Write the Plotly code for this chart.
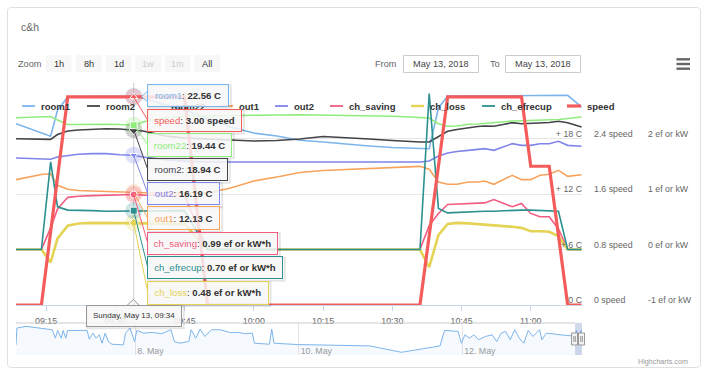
import plotly.graph_objects as go

W, H = 708, 383
FONT = "Liberation Sans, Arial, sans-serif"

# ---------------- data ----------------
DAY = "2018-05-13 "
TIMES = ["09:08:30", "09:14", "09:16", "09:17:30", "09:19:42", "09:22", "09:25", "09:28", "09:31", "09:34",
         "09:36", "09:38", "09:41", "09:45", "09:50", "09:55", "10:00", "10:05", "10:10", "10:15",
         "10:20", "10:25", "10:30", "10:34", "10:36", "10:38", "10:40", "10:42", "10:44", "10:46:30",
         "10:48:30", "10:50", "10:52", "10:54", "10:56", "10:58", "11:00", "11:02", "11:04", "11:06",
         "11:08", "11:11"]

room1 = [19.60, 18.59, 18.24, 21.08, 22.49, 22.54, 22.54, 22.59, 22.59, 22.56,
         22.38, 22.05, 21.62, 21.08, 20.22, 19.24, 18.59, 18.27, 17.81, 17.62,
         17.37, 17.19, 17.03, 16.94, 16.90, 16.90, 21.30, 22.59, 22.59, 22.59,
         22.62, 22.62, 22.62, 22.65, 22.65, 22.65, 22.65, 22.65, 22.65, 22.65,
         22.67, 21.41]
room2 = [17.98, 17.91, 17.91, 18.43, 18.81, 18.92, 19.03, 19.06, 19.03, 18.94,
         18.81, 18.59, 18.27, 18.05, 17.95, 17.84, 17.73, 17.78, 17.95, 18.22,
         18.11, 17.95, 17.78, 17.65, 17.62, 17.62, 18.16, 18.78, 18.97, 19.19,
         19.30, 19.35, 19.32, 19.51, 19.71, 19.60, 19.62, 19.71, 19.73, 19.86,
         19.71, 19.24]
room22 = [20.25, 20.38, 20.38, 20.00, 19.51, 19.51, 19.54, 19.54, 19.51, 19.44,
          19.78, 20.00, 20.22, 20.38, 20.43, 20.49, 20.49, 20.54, 20.57, 20.54,
          20.49, 20.43, 20.40, 20.32, 20.29, 20.22, 19.60, 19.32, 19.35, 19.54,
          19.57, 19.64, 19.73, 19.86, 19.89, 19.92, 19.95, 19.97, 20.00, 20.05,
          20.16, 20.32]
out1 = [13.55, 14.11, 14.19, 12.94, 12.51, 12.38, 12.32, 12.27, 12.22, 12.13,
        12.11, 12.11, 12.11, 12.11, 12.11, 12.65, 13.41, 13.84, 14.32, 14.54,
        14.65, 14.81, 14.86, 14.94, 14.99, 14.67, 13.30, 13.05, 13.05, 13.30,
        13.30, 13.41, 13.05, 13.55, 14.02, 13.55, 13.55, 14.02, 14.13, 14.56,
        13.91, 14.09]
out2 = [15.89, 15.78, 15.75, 16.00, 16.18, 16.30, 16.36, 16.36, 16.25, 16.19,
        16.00, 15.85, 15.70, 15.55, 15.46, 15.46, 15.46, 15.46, 15.46, 15.46,
        15.46, 15.46, 15.46, 15.46, 15.46, 15.57, 16.11, 16.43, 16.60, 16.72,
        16.80, 16.90, 16.72, 17.08, 17.44, 17.26, 17.26, 17.44, 17.44, 17.70,
        17.26, 17.16]
ch_saving = [0, 0, 0.39, 0.73, 0.94, 0.96, 0.97, 0.98, 0.98, 0.99,
             0.98, 0.98, 0.97, 0.97, 0, 0, 0, 0, 0, 0,
             0, 0, 0, 0, 0, 0.43, 0.65, 0.81, 0.82, 0.83,
             0.84, 0.84, 0.90, 0.84, 0.77, 0.83, 0.65, 0.59, 0.59, 0.37,
             0, 0]
ch_loss = [0, 0, -0.23, 0.20, 0.43, 0.47, 0.48, 0.48, 0.47, 0.48,
           0.47, 0.47, 0.46, 0.46, 0, 0, 0, 0, 0, 0,
           0, 0, 0, 0, 0, -0.32, 0.26, 0.46, 0.48, 0.47,
           0.46, 0.44, 0.43, 0.42, 0.41, 0.39, 0.33, 0.33, 0.32, 0.24,
           0, 0]
ch_efrecup = [0, 0, 1.58, 0.77, 0.71, 0.70, 0.70, 0.69, 0.69, 0.70,
              0.70, 0.70, 0.70, 0.70, 0, 0, 0, 0, 0, 0,
              0, 0, 0, 0, 0, 2.81, 0.74, 0.66, 0.67, 0.68,
              0.68, 0.69, 0.69, 0.70, 0.70, 0.71, 0.71, 0.70, 0.70, 0.69,
              0, 0]
speed = [0, 0, 1.05, 1.85, 3, 3, 3, 3, 3, 3,
         3, 3, 3, 3, 0, 0, 0, 0, 0, 0,
         0, 0, 0, 0, 0, 1.0, 2.03, 3, 3, 3,
         3, 3, 3, 3, 3, 3, 2, 2, 2, 1.0,
         0, 0]

HOVER_INDEX = 9   # 09:34

# navigator (room1 over the week)
NAV_TIMES = ["2018-05-06 13:00", "2018-05-06 13:16", "2018-05-06 15:56", "2018-05-06 21:14", "2018-05-06 23:38",
             "2018-05-07 00:34", "2018-05-07 01:14", "2018-05-07 02:18", "2018-05-07 02:50", "2018-05-07 03:38",
             "2018-05-07 04:09", "2018-05-07 09:53", "2018-05-07 10:31", "2018-05-07 11:35", "2018-05-07 12:31",
             "2018-05-07 13:28", "2018-05-07 14:15", "2018-05-07 15:11", "2018-05-07 16:06", "2018-05-07 17:10",
             "2018-05-07 20:31", "2018-05-07 21:10", "2018-05-07 22:29", "2018-05-07 23:50", "2018-05-08 00:28",
             "2018-05-08 02:28", "2018-05-08 05:08", "2018-05-08 07:47", "2018-05-08 10:28", "2018-05-08 11:31",
             "2018-05-08 13:06", "2018-05-08 15:46", "2018-05-08 16:25", "2018-05-08 17:46", "2018-05-08 19:05",
             "2018-05-08 20:25", "2018-05-08 22:25", "2018-05-09 01:04", "2018-05-09 03:43", "2018-05-09 06:22",
             "2018-05-09 08:22", "2018-05-09 10:22", "2018-05-09 11:02", "2018-05-09 15:25", "2018-05-09 16:05",
             "2018-05-09 16:46", "2018-05-09 23:40", "2018-05-10 20:55", "2018-05-11 06:12", "2018-05-11 17:30",
             "2018-05-11 18:50", "2018-05-11 22:49", "2018-05-11 23:46", "2018-05-12 00:49", "2018-05-12 02:08",
             "2018-05-12 03:28", "2018-05-12 04:49", "2018-05-12 06:49", "2018-05-12 08:48", "2018-05-12 10:08",
             "2018-05-12 11:27", "2018-05-12 12:47", "2018-05-12 14:06", "2018-05-12 15:26", "2018-05-12 16:46",
             "2018-05-12 18:05", "2018-05-12 19:25", "2018-05-12 20:46", "2018-05-12 22:44", "2018-05-12 23:24",
             "2018-05-13 00:43", "2018-05-13 04:43", "2018-05-13 08:02"]
NAV_ROOM1 = [16.15, 23.65, 24.40, 23.20, 22.90,
             19.15, 22.60, 19.15, 22.60, 19.15,
             22.60, 22.60, 18.70, 21.40, 19.15,
             20.65, 16.90, 21.40, 17.65, 16.45,
             16.15, 21.40, 23.65, 17.65, 22.60,
             21.40, 21.70, 21.10, 22.90, 17.65,
             16.90, 17.65, 22.90, 19.15, 23.20,
             19.90, 22.90, 22.90, 21.70, 21.70,
             21.10, 21.40, 16.90, 16.45, 23.20,
             16.90, 16.30, 15.70, 12.85, 15.70,
             22.60, 22.15, 16.90, 20.65, 19.15,
             20.65, 18.40, 19.90, 20.65, 17.65,
             21.40, 22.15, 18.40, 22.90, 19.15,
             16.90, 22.60, 19.90, 22.90, 18.40,
             21.40, 20.65, 20.20]

XTICKS = ["09:15", "09:30", "09:45", "10:00", "10:15", "10:30", "10:45", "11:00"]
C_TICKS = [0, 6, 12, 18, 24]
C_LABELS = ["0 C", "+ 6 C", "+ 12 C", "+ 18 C", ""]
SPEED_TICKS = [0, 0.8, 1.6, 2.4]
SPEED_LABELS = ["0 speed", "0.8 speed", "1.6 speed", "2.4 speed"]
EF_TICKS = [-1, 0, 1, 2]
EF_LABELS = ["-1 ef or kW", "0 ef or kW", "1 ef or kW", "2 ef or kW"]
NAV_TICKS = ["2018-05-08", "2018-05-10", "2018-05-12"]
NAV_LABELS = ["8. May", "10. May", "12. May"]

# ---------------- helpers ----------------
def PX(x):
    return x / W

def PY(y):
    return 1 - y / H

PLOT_TOP, PLOT_BOT = 83, 305
C_RANGE, EF_RANGE, SPEED_RANGE = [0, 24], [-1, 3], [0, 3.2]

def ypix(v, rng):
    return PLOT_BOT - (v - rng[0]) / (rng[1] - rng[0]) * (PLOT_BOT - PLOT_TOP)

t = [DAY + s for s in TIMES]
X_RANGE = [DAY + "09:08:30", DAY + "11:11:06"]
NAV_RANGE = ["2018-05-06 13:00", DAY + "11:11:06"]
HOVER_XPX = 133.7

COL = {"room1": "#7cb5ec", "room2": "#434348", "room22": "#90ed7d", "out1": "#f7a35c",
       "out2": "#8085e9", "ch_saving": "#f15c80", "ch_loss": "#e4d354", "ch_efrecup": "#2b908f",
       "speed": "#f45b5b"}

fig = go.Figure()

series = [
    ("room1", room1, "y", 1.6), ("room2", room2, "y", 1.6), ("room22", room22, "y", 1.6),
    ("out1", out1, "y", 1.6), ("out2", out2, "y", 1.6),
    ("ch_saving", ch_saving, "y2", 1.6), ("ch_loss", ch_loss, "y2", 2.6),
    ("ch_efrecup", ch_efrecup, "y2", 1.6), ("speed", speed, "y3", 3.2),
]
AXRANGE = {"y": C_RANGE, "y2": EF_RANGE, "y3": SPEED_RANGE}
SER = {n: (v, a) for n, v, a, _ in series}
for name, vals, ax, lw in series:
    fig.add_trace(go.Scatter(x=t, y=vals, mode="lines", name=name, yaxis=ax, xaxis="x",
                             line=dict(color=COL[name], width=lw), hoverinfo="skip"))

# hover halos + markers
SYMB = {"room1": "circle", "room2": "diamond", "room22": "square", "out1": "triangle-up",
        "out2": "triangle-down", "ch_saving": "circle", "ch_loss": "diamond", "ch_efrecup": "square",
        "speed": "triangle-up"}
for ax in ["y", "y2", "y3"]:
    grp = [(n, v) for n, v, a, _ in series if a == ax]
    xs = [t[HOVER_INDEX]] * len(grp)
    ys = [v[HOVER_INDEX] for _, v in grp]
    fig.add_trace(go.Scatter(x=xs, y=ys, mode="markers", yaxis=ax, hoverinfo="skip",
                             marker=dict(size=17, color=[COL[n] for n, _ in grp], opacity=0.25,
                                         line=dict(width=0))))
    fig.add_trace(go.Scatter(x=xs, y=ys, mode="markers", yaxis=ax, hoverinfo="skip",
                             marker=dict(size=7, color=[COL[n] for n, _ in grp],
                                         symbol=[SYMB[n] for n, _ in grp],
                                         line=dict(width=1, color="#ffffff"))))

# navigator
fig.add_trace(go.Scatter(x=NAV_TIMES + t, y=NAV_ROOM1 + room1, mode="lines", xaxis="x2", yaxis="y4",
                         line=dict(color="#7cb5ec", width=1), fill="tozeroy",
                         fillcolor="rgba(124,181,236,0.07)", hoverinfo="skip"))

AXF = dict(family=FONT, size=8.8, color="#666666")
fig.update_layout(
    width=W, height=H, margin=dict(l=0, r=0, t=0, b=0),
    paper_bgcolor="white", plot_bgcolor="white", showlegend=False,
    hovermode=False, dragmode=False, font=dict(family=FONT, color="#333333"),
    xaxis=dict(domain=[PX(16), PX(582)], range=X_RANGE, anchor="y", showgrid=False, zeroline=False,
               showline=True, linecolor="#ccd6eb", linewidth=1, ticks="outside", ticklen=5,
               tickcolor="#ccd6eb", tickvals=[DAY + s for s in XTICKS], ticktext=XTICKS,
               tickfont=AXF, ticklabelstandoff=2, fixedrange=True),
    yaxis=dict(domain=[PY(PLOT_BOT), PY(PLOT_TOP)], range=C_RANGE, side="right", anchor="x",
               ticklabelposition="inside", ticklabeloverflow="allow", tickvals=C_TICKS, ticktext=C_LABELS,
               showgrid=True, gridcolor="#e6e6e6", gridwidth=1, zeroline=False, showline=False,
               ticks="", tickfont=AXF, ticklabelshift=-5, ticklabelstandoff=-3, fixedrange=True),
    yaxis2=dict(range=EF_RANGE, overlaying="y", side="right", anchor="free", position=PX(647),
                tickvals=EF_TICKS, ticktext=EF_LABELS, showgrid=False, zeroline=False, showline=False,
                ticks="", tickfont=AXF, ticklabelshift=-5, fixedrange=True),
    yaxis3=dict(range=SPEED_RANGE, overlaying="y", side="right", anchor="free", position=PX(593),
                tickvals=SPEED_TICKS, ticktext=SPEED_LABELS, showgrid=False, zeroline=False,
                showline=False, ticks="", tickfont=AXF, ticklabelshift=-5, fixedrange=True),
    xaxis2=dict(domain=[PX(16), PX(582)], range=NAV_RANGE, anchor="y4", showgrid=True,
                gridcolor="#e6e6e6", zeroline=False, showline=False, ticks="",
                tickvals=NAV_TICKS, ticktext=NAV_LABELS, ticklabelposition="inside right",
                ticklabeloverflow="allow", ticklabelstandoff=-7, ticklabelshift=2,
                tickfont=dict(family=FONT, size=8.8, color="#999999"), fixedrange=True),
    yaxis4=dict(domain=[PY(355), PY(323)], range=[11.65, 25.9], anchor="x2", showgrid=False,
                zeroline=False, showticklabels=False, showline=False, fixedrange=True),
)

shapes = []
ann = []

def pline(x0, y0, x1, y1, color, width, layer="above"):
    shapes.append(dict(type="line", xref="paper", yref="paper", x0=PX(x0), y0=PY(y0), x1=PX(x1),
                       y1=PY(y1), line=dict(color=color, width=width), layer=layer))

def prect(x0, y0, x1, y1, fill, line_color=None, lw=0, layer="above"):
    shapes.append(dict(type="rect", xref="paper", yref="paper", x0=PX(x0), y0=PY(y0), x1=PX(x1),
                       y1=PY(y1), fillcolor=fill,
                       line=dict(color=line_color or "rgba(0,0,0,0)", width=lw), layer=layer))

def ppath(pts, fill, color, lw, close=True):
    d = "M " + " L ".join("%.5f,%.5f" % (PX(x), PY(y)) for x, y in pts) + (" Z" if close else "")
    shapes.append(dict(type="path", xref="paper", yref="paper", path=d, fillcolor=fill,
                       line=dict(color=color, width=lw), layer="above"))

def text(x, y, s, size, color="#333333", xanchor="left", bold=False):
    ann.append(dict(x=PX(x), y=PY(y), xref="paper", yref="paper", text=("<b>%s</b>" % s) if bold else s,
                    showarrow=False, xanchor=xanchor, yanchor="middle",
                    font=dict(family=FONT, size=size, color=color)))

# card border with rounded corners
r = 4
x0, y0, x1, y1 = 7.5, 7.5, 700.5, 367.5
d = "M %.5f,%.5f L %.5f,%.5f Q %.5f,%.5f %.5f,%.5f L %.5f,%.5f Q %.5f,%.5f %.5f,%.5f L %.5f,%.5f Q %.5f,%.5f %.5f,%.5f L %.5f,%.5f Q %.5f,%.5f %.5f,%.5f Z" % (
    PX(x0 + r), PY(y0), PX(x1 - r), PY(y0), PX(x1), PY(y0), PX(x1), PY(y0 + r),
    PX(x1), PY(y1 - r), PX(x1), PY(y1), PX(x1 - r), PY(y1),
    PX(x0 + r), PY(y1), PX(x0), PY(y1), PX(x0), PY(y1 - r),
    PX(x0), PY(y0 + r), PX(x0), PY(y0), PX(x0 + r), PY(y0))
shapes.append(dict(type="path", xref="paper", yref="paper", path=d, line=dict(color="#e0e0e0", width=1),
                   layer="below"))

# crosshair
shapes.append(dict(type="line", xref="x", yref="paper", x0=t[HOVER_INDEX], x1=t[HOVER_INDEX],
                   y0=PY(PLOT_BOT), y1=PY(PLOT_TOP), line=dict(color="#cccccc", width=1), layer="below"))

# title
text(19, 27, "c&h", 10.4, "#666666")

# range selector
text(16, 63.5, "Zoom", 9.2, "#666666")
BUTTONS = [("1h", 46, True), ("8h", 76, True), ("1d", 106, True), ("1w", 135.5, False),
           ("1m", 165, False), ("All", 194.5, True)]
for lab, bx, enabled in BUTTONS:
    prect(bx, 55, bx + 25.5, 72, "#f7f7f7")
    text(bx + 12.75, 63.5, lab, 9.2, "#333333" if enabled else "#cccccc", xanchor="center")
text(373, 63.5, "From", 9.2, "#666666")
text(488, 63.5, "To", 9.2, "#666666")
for bx in (403.5, 505.5):
    prect(bx, 55.5, bx + 75, 72.5, "#ffffff", "#cccccc", 1)
    text(bx + 37.5, 63.8, "May 13, 2018", 9.2, "#444444", xanchor="center")
# export menu icon
for yy in (59.3, 64, 68.7):
    pline(676.5, yy, 690, yy, "#666666", 2.4)

# legend (manual)
LEG = [("room1", 22, 35, 39), ("room2", 87, 100, 104), ("room22", 152, 165, 169),
       ("out1", 220, 233, 237), ("out2", 275, 288, 292), ("ch_saving", 330, 343, 347),
       ("ch_loss", 411, 424, 428), ("ch_efrecup", 482, 495, 499), ("speed", 567, 581, 585)]
for name, lx0, lx1, tx in LEG:
    lw = 3.2 if name == "speed" else (2.4 if name == "ch_loss" else 1.8)
    pline(lx0, 106, lx1, 106, COL[name], lw)
    text(tx, 106, name, 9.5, "#333333", bold=True)

# tooltips
def fmt(v):
    return "%.2f" % v

UNIT = {"y": " C", "y2": " ef or kW*h", "y3": " speed"}
TIPS = [
    ("room1", 147.3, 83.7, 82, 22.5),
    ("speed", 147.3, 108.7, 95, 23.3),
    ("room22", 147.3, 132.7, 85, 24),
    ("room2", 147.3, 158, 81, 23.3),
    ("out2", 147.3, 182, 73.4, 23.3),
    ("out1", 147.3, 206.3, 73.4, 24),
    ("ch_saving", 147.3, 231.7, 131, 23.3),
    ("ch_efrecup", 147.3, 256, 136, 23.3),
    ("ch_loss", 147.3, 280.7, 121.7, 23.7),
]
BG = "rgba(247,247,247,0.85)"
# room1 callout pointer
ppath([(147.8, 91.0), (141.5, 96.5), (147.8, 102.0)], BG, COL["room1"], 1)
for name, bx, by, bw, bh in TIPS:
    vals, ax = SER[name]
    v = vals[HOVER_INDEX]
    if name != "room1":
        # callout needle from box to the hovered point
        pline(bx + 0.5, by + bh / 2, HOVER_XPX, ypix(v, AXRANGE[ax]), COL[name], 1)
    prect(bx + 1.5, by + 1.5, bx + bw + 1.5, by + bh + 1.5, "rgba(0,0,0,0)", "rgba(0,0,0,0.10)", 2)
    ann.append(dict(x=PX(bx), y=PY(by), xref="paper", yref="paper", xanchor="left", yanchor="top",
                    showarrow=False, bgcolor=BG, bordercolor=COL[name], borderwidth=1, borderpad=3,
                    width=bw - 8, height=bh - 8, align="center", valign="middle",
                    text="<span style='color:%s'>%s</span>: <b>%s%s</b>" % (COL[name], name, fmt(v), UNIT[ax]),
                    font=dict(family=FONT, size=9.6, color="#333333")))

# date header tooltip
ppath([(127, 305.5), (133.3, 299.5), (139.6, 305.5)], BG, "#999999", 1)
prect(87.5, 306.5, 183.8, 328.2, "rgba(0,0,0,0)", "rgba(0,0,0,0.10)", 2)
ann.append(dict(x=PX(86), y=PY(305), xref="paper", yref="paper", xanchor="left", yanchor="top",
                showarrow=False, bgcolor=BG, bordercolor="#999999", borderwidth=1, borderpad=3,
                width=96.3 - 8, height=21.7 - 8, align="center", valign="middle",
                text="Sunday, May 13, 09:34", font=dict(family=FONT, size=8, color="#333333")))

# navigator decorations
pline(16, 323, 575, 323, "#cccccc", 1)
shapes.append(dict(type="rect", xref="x2", yref="paper", x0=t[0], x1=t[-1], y0=PY(355), y1=PY(323),
                   fillcolor="rgba(102,133,194,0.3)", line=dict(width=0), layer="above"))
for hx in (571.5, 578.5):
    prect(hx, 333, hx + 6, 345, "#f2f2f2", "#999999", 1)
    pline(hx + 2.3, 336, hx + 2.3, 342, "#999999", 1)
    pline(hx + 3.8, 336, hx + 3.8, 342, "#999999", 1)

# credits
text(690, 361, "Highcharts.com", 7.2, "#999999", xanchor="right")

fig.update_layout(shapes=shapes, annotations=ann)
fig.write_html("out.html", config={"displayModeBar": False, "staticPlot": True},
               post_script="document.body.style.margin='0';document.body.style.overflow='hidden';")
